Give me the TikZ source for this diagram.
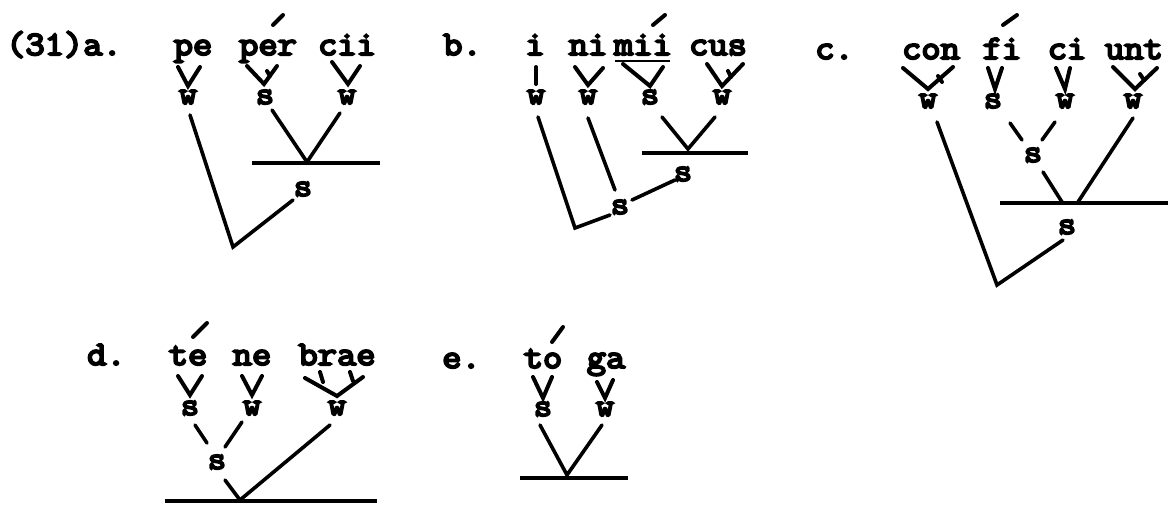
\documentclass[tikz,border=0pt]{standalone}
\usepackage{fontspec}
\setmonofont{Latin Modern Mono}[FakeStretch=1.1,FakeBold=6]
\begin{document}
\begin{tikzpicture}[x=1pt,y=-1pt,
  txt/.style={font=\ttfamily\fontsize{34}{38}\selectfont, inner sep=0pt, anchor=base},
  sw/.style={font=\ttfamily\fontsize{32}{36}\selectfont, inner sep=0pt, anchor=base},
  lab/.style={txt, anchor=base west},
  br/.style={line width=4pt, line cap=round},
  tr/.style={line width=3.6pt, line cap=round},
  bar/.style={line width=3.8pt},
  acc/.style={line width=4pt, line cap=round}]
\useasboundingbox (0,0) rectangle (1168,512);

% ---------- (31)a ----------
\node[lab] (la) at (6,55) {(31)a.};
\node[txt] (a1) at (193,55) {pe};
\node[txt] (a2) at (268,55) {per};
\node[txt] (a3) at (347,55) {cii};
\draw[acc] (273,25) -- (283,15);
\node[sw] (aw1) at (188,104) {w};
\node[sw] (as2) at (265,104) {s};
\node[sw] (aw3) at (347,104) {w};
\node[sw] (aS) at (303,196) {s};
\draw[br] (178,67) -- (188,86) -- (200,67);
\draw[br] (247,66) -- (264,84) -- (277,66);
\draw[br] (267,71) -- (270,76);
\draw[br] (332,62) -- (348,84) -- (360,66);
\draw[tr] (190,115) -- (233,247) -- (293,200);
\draw[tr] (272,110) -- (307,162) -- (340,113);
\draw[bar] (252,163) -- (380,163);

% ---------- b ----------
\node[lab] (lb) at (443,55) {b.};
\node[txt] (b1) at (535,55) {i};
\node[txt] (b2) at (588,55) {ni};
\node[txt] (b3) at (643,55) {mii};
\node[txt] (b4) at (718,55) {cus};
\draw[line width=2.4pt] (615,61) -- (670,61);
\draw[acc] (653,25) -- (665,15);
\node[sw] (bw1) at (536,104) {w};
\node[sw] (bw2) at (588,104) {w};
\node[sw] (bs3) at (650,104) {s};
\node[sw] (bw4) at (722,104) {w};
\node[sw] (bS1) at (620,214) {s};
\node[sw] (bS2) at (683,181) {s};
\draw[br] (536,67) -- (536,84);
\draw[br] (575,67) -- (588,85) -- (603,68);
\draw[br] (623,64) -- (650,86) -- (663,67);
\draw[br] (707,64) -- (722,86) -- (743,64);
\draw[br] (728,71) -- (731,77);
\draw[tr] (538,117) -- (575,228) -- (610,215);
\draw[tr] (588,118) -- (615,190);
\draw[tr] (632,200) -- (675,180);
\draw[tr] (662,117) -- (688,149) -- (715,117);
\draw[bar] (642,153) -- (748,153);

% ---------- c ----------
\node[lab] (lc) at (815,59) {c.};
\node[txt] (c1) at (931,59) {con};
\node[txt] (c2) at (1002,59) {fi};
\node[txt] (c3) at (1067,59) {ci};
\node[txt] (c4) at (1134,59) {unt};
\draw[acc] (1003,25) -- (1017,15);
\node[sw] (cw1) at (928,108) {w};
\node[sw] (cs2) at (993,108) {s};
\node[sw] (cw3) at (1065,108) {w};
\node[sw] (cw4) at (1133,108) {w};
\node[sw] (cS1) at (1033,162) {s};
\node[sw] (cS2) at (1067,234) {s};
\draw[br] (903,68) -- (928,89) -- (953,67);
\draw[br] (938,76) -- (942,82);
\draw[br] (988,68) -- (995,89) -- (1002,68);
\draw[br] (1056,68) -- (1065,89) -- (1070,68);
\draw[br] (1113,67) -- (1135,89) -- (1157,68);
\draw[br] (1140,74) -- (1144,80);
\draw[tr] (937,122) -- (997,285) -- (1063,240);
\draw[tr] (1010,123) -- (1022,140);
\draw[tr] (1055,122) -- (1042,140);
\draw[tr] (1043,172) -- (1062,202);
\draw[tr] (1133,118) -- (1078,202);
\draw[bar] (1000,203) -- (1168,203);

% ---------- d ----------
\node[lab] (ld) at (87,365) {d.};
\node[txt] (d1) at (188,365) {te};
\node[txt] (d2) at (252,365) {ne};
\node[txt] (d3) at (337,365) {brae};
\draw[acc] (193,337) -- (207,323);
\node[sw] (ds1) at (190,415) {s};
\node[sw] (dw2) at (252,415) {w};
\node[sw] (dw3) at (337,415) {w};
\node[sw] (dS) at (217,469) {s};
\draw[br] (178,376) -- (190,395) -- (202,376);
\draw[br] (242,376) -- (252,395) -- (262,376);
\draw[br] (305,378) -- (337,396) -- (363,377);
\draw[br] (320,372) -- (323,382);
\draw[br] (350,372) -- (353,381);
\draw[tr] (195,425) -- (207,443);
\draw[tr] (242,422) -- (225,447);
\draw[tr] (225,480) -- (240,500) -- (330,425);
\draw[bar] (165,501) -- (377,501);

% ---------- e ----------
\node[lab] (le) at (442,368) {e.};
\node[txt] (e1) at (543,368) {to};
\node[txt] (e2) at (606,368) {ga};
\draw[acc] (552,342) -- (563,327);
\node[sw] (es1) at (543,416) {s};
\node[sw] (ew2) at (605,416) {w};
\draw[br] (533,377) -- (543,398) -- (552,377);
\draw[br] (597,382) -- (605,398) -- (613,380);
\draw[tr] (540,425) -- (567,475) -- (602,425);
\draw[bar] (520,478) -- (628,478);
\end{tikzpicture}
\end{document}
